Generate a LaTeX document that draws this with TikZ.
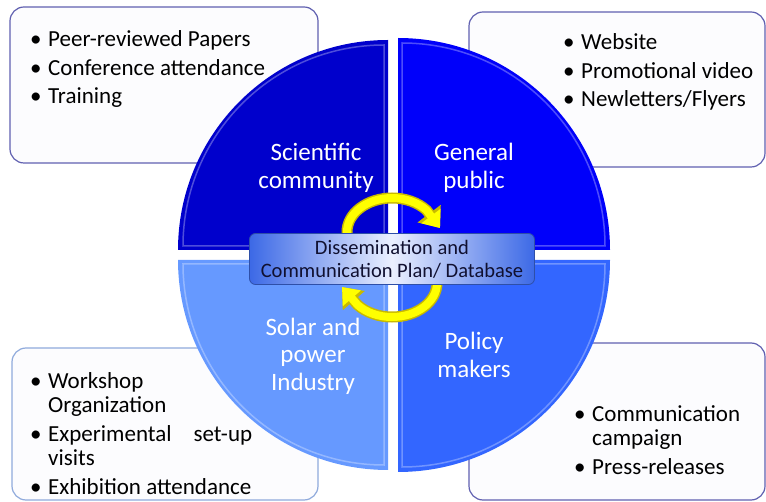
\documentclass[tikz,border=0pt]{standalone}
\usepackage{fontspec}
\setmainfont{Carlito}
\usetikzlibrary{arrows.meta}

\definecolor{sciblue}{RGB}{0,0,204}
\definecolor{pubblue}{RGB}{0,0,250}
\definecolor{solblue}{RGB}{102,153,255}
\definecolor{polblue}{RGB}{51,102,255}
\definecolor{boxline}{RGB}{96,96,176}
\definecolor{boxlinelight}{RGB}{143,170,220}
\definecolor{boxfill}{RGB}{252,252,254}
\definecolor{planedge}{RGB}{60,105,230}
\definecolor{planmid}{RGB}{235,240,255}
\definecolor{planrim}{RGB}{46,79,168}
\definecolor{plantext}{RGB}{16,16,48}
\definecolor{arrowyellow}{RGB}{255,255,0}
\definecolor{arrowrim}{RGB}{200,185,0}

\newcommand{\listdot}{\makebox[18pt][l]{\textbullet}}
\newcommand{\listgap}{\hspace*{18pt}}

\begin{document}
\begin{tikzpicture}[x=1pt,y=-1pt,
  listbox/.style={draw=boxline, fill=boxfill, line width=1.2pt, rounded corners=14pt},
  listtext/.style={anchor=base west, inner sep=0pt, font=\fontsize{23}{23.5}\selectfont},
  quadtext/.style={text=white, align=center, inner sep=0pt, font=\fontsize{25}{27.5}\selectfont},
  bevel/.style={draw=white, opacity=0.3, line width=1.5pt},
  rim/.style={line width=11pt, arrowrim, -{Triangle[length=18pt,width=28pt]}},
  ring/.style={line width=8pt, arrowyellow, -{Triangle[length=15pt,width=23pt]}},
  planbox/.style={draw=planrim, line width=0.8pt, rounded corners=6pt,
    left color=planedge, right color=planedge, middle color=planmid,
    minimum width=285pt, minimum height=51pt, inner sep=0pt, align=center,
    text=plantext, font=\fontsize{20.5}{23}\selectfont}]
\useasboundingbox (0,0) rectangle (766,502);

\draw[listbox] (10,7) rectangle (318,163);
\draw[listbox] (469,12) rectangle (765,167);
\draw[listbox, draw=boxlinelight] (12,348) rectangle (318,500);
\draw[listbox] (469,343) rectangle (765,500);

\fill[sciblue] (388,250) -- (178,250) arc[start angle=180, end angle=270, radius=210] -- cycle;
\fill[pubblue] (398,250) -- (398,38) arc[start angle=270, end angle=360, radius=212] -- cycle;
\fill[solblue] (388,260) -- (178,260) arc[start angle=180, end angle=90, radius=210] -- cycle;
\fill[polblue] (398,260) -- (610,260) arc[start angle=0, end angle=90, radius=212] -- cycle;

\draw[bevel] (384,246) -- (183,246) arc[start angle=180, end angle=270, radius=201] -- cycle;
\draw[bevel] (402,246) -- (402,43) arc[start angle=270, end angle=360, radius=203] -- cycle;
\draw[bevel] (384,264) -- (183,264) arc[start angle=180, end angle=90, radius=201] -- cycle;
\draw[bevel] (402,264) -- (605,264) arc[start angle=0, end angle=90, radius=203] -- cycle;

\node[quadtext] (sci) at (316,168) {Scientific\\community};
\node[quadtext] (pub) at (474,168) {General\\public};
\node[quadtext] (sol) at (313,356) {Solar and\\power\\Industry};
\node[quadtext] (pol) at (474,355) {Policy\\makers};

\draw[rim] (347,240) -- (347,232) arc[start angle=180, end angle=320, x radius=45, y radius=34] -- (440,228);
\draw[ring] (347,240) -- (347,232) arc[start angle=180, end angle=320, x radius=45, y radius=34] -- (440,228);
\draw[rim] (437,275) -- (437,283) arc[start angle=0, end angle=140, x radius=45, y radius=34] -- (342,287);
\draw[ring] (437,275) -- (437,283) arc[start angle=0, end angle=140, x radius=45, y radius=34] -- (342,287);

\node[planbox] (plan) at (392,259) {Dissemination and\\Communication Plan/ Database};

\node[listtext] (scilist) at (30,47) {\begin{tabular}[t]{@{}l@{}}
\listdot Peer-reviewed Papers\\[5pt]
\listdot Conference attendance\\[5pt]
\listdot Training
\end{tabular}};
\node[listtext] (publist) at (563,50) {\begin{tabular}[t]{@{}l@{}}
\listdot Website\\[5pt]
\listdot Promotional video\\[5pt]
\listdot Newletters/Flyers
\end{tabular}};
\node[listtext] (sollist) at (30,389) {\begin{tabular}[t]{@{}l@{}}
\listdot Workshop\\
\listgap Organization\\[6pt]
\listdot \makebox[204pt][s]{Experimental\hfill set-up}\\
\listgap visits\\[6pt]
\listdot Exhibition attendance
\end{tabular}};
\node[listtext] (pollist) at (574,422) {\begin{tabular}[t]{@{}l@{}}
\listdot Communication\\
\listgap campaign\\[6pt]
\listdot Press-releases
\end{tabular}};

\end{tikzpicture}
\end{document}
